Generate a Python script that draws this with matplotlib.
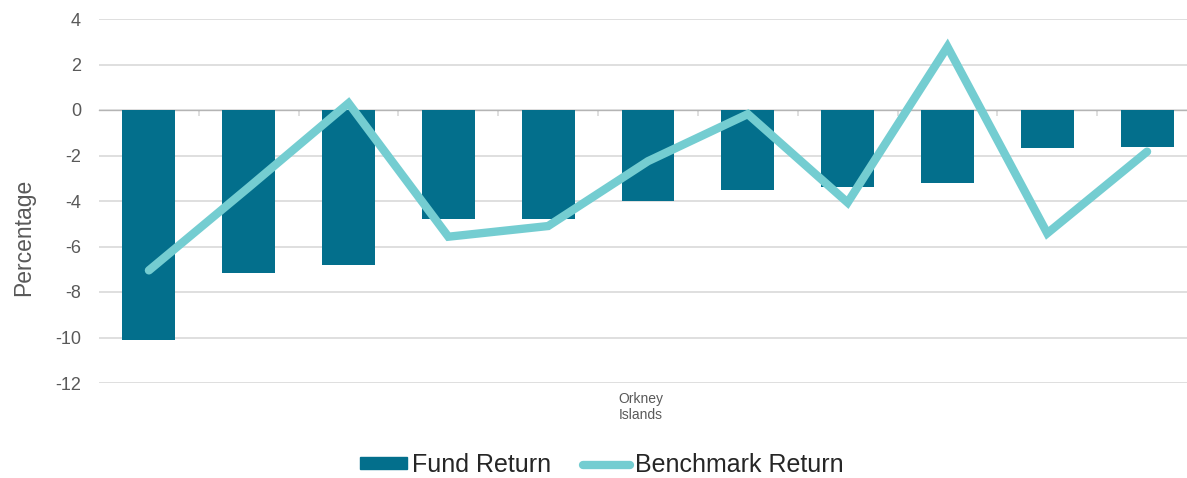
import numpy as np
import matplotlib.pyplot as plt
from matplotlib.lines import Line2D
from matplotlib.patches import Patch

plt.rcParams['font.family'] = ['Liberation Sans', 'DejaVu Sans']
plt.rcParams['axes.unicode_minus'] = False

fund_return = [-10.1, -7.15, -6.8, -4.8, -4.8, -4.0, -3.52, -3.38, -3.2, -1.68, -1.63]
benchmark_return = [-7.05, -3.4, 0.3, -5.57, -5.1, -2.25, -0.18, -4.07, 2.78, -5.42, -1.83]
region_label = 'Orkney\nIslands'

bar_color = '#036f8c'
line_color = '#74cdd1'
text_color = '#595959'
grid_color = '#d9d9d9'

x = np.arange(len(fund_return))

fig = plt.figure(figsize=(11.87, 4.78), dpi=100)
ax = fig.add_axes([99 / 1187, 1 - 383 / 478, 1 - 99 / 1187, 364 / 478])

ax.bar(x, fund_return, width=0.53, color=bar_color, zorder=2)
ax.plot(x, benchmark_return, color=line_color, linewidth=6, solid_capstyle='round',
        solid_joinstyle='miter', zorder=3)

ax.set_ylim(-12, 4)
ax.set_xlim(-0.5, 10.4)
ax.set_yticks(range(-12, 5, 2))
ax.grid(axis='y', color=grid_color, linewidth=1.2, zorder=0)
ax.set_axisbelow(True)
for s in ax.spines.values():
    s.set_visible(False)

ax.tick_params(axis='y', length=0, pad=13, labelsize=13, labelcolor=text_color)
ax.set_xticks([])
ax.text(4.93, -12.4, region_label, fontsize=10, color=text_color,
        ha='center', va='top', linespacing=1.15)

# zero line with category boundary ticks
sec = ax.secondary_xaxis(0.75)
sec.spines['bottom'].set_color(grid_color)
sec.set_xticks(np.arange(0.5, len(fund_return) - 0.5, 1))
sec.set_xticklabels([])
sec.tick_params(axis='x', direction='in', length=4, color=grid_color, width=1.2)

ax.set_ylabel('Percentage', fontsize=16.5, color=text_color)
ax.yaxis.set_label_coords(-0.059, 0.40)

handles = [Patch(color=bar_color), Line2D([0], [0], color=line_color, linewidth=6, solid_capstyle='round')]
fig.legend(handles, ['Fund Return', 'Benchmark Return'], loc='center', ncol=2,
           bbox_to_anchor=(0.507, 0.027), frameon=False, fontsize=18,
           handlelength=1.85, handleheight=0.38, handletextpad=0.2, columnspacing=1.3,
           labelcolor='#262626')

fig.savefig('out.png', dpi=100)
